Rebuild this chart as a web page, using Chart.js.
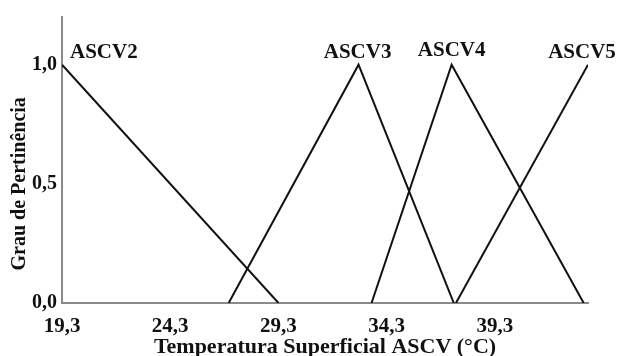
<!DOCTYPE html>
<html lang="pt">

<head>
    <meta charset="UTF-8">
    <title>Grau de Pertinência ASCV</title>
    <style>
        body {
            margin: 0;
            padding: 0;
            background-color: #ffffff;
        }

        .chart-box {
            width: 618px;
            height: 356px;
        }
    </style>
</head>

<body>
    <div class="chart-box">
        <canvas id="fuzzyChart" width="618" height="356"></canvas>
    </div>

    <script src="https://cdn.jsdelivr.net/npm/chart.js"></script>
    <script>
        // Conjuntos fuzzy
        const setNames = ['ASCV2', 'ASCV3', 'ASCV4', 'ASCV5'];
        const ascv2X = [19.3, 29.3];
        const ascv2Y = [1, 0];
        const ascv3X = [27.0, 33.0, 37.4];
        const ascv3Y = [0, 1, 0];
        const ascv4X = [33.6, 37.3, 43.4];
        const ascv4Y = [0, 1, 0];
        const ascv5X = [37.5, 43.6];
        const ascv5Y = [0, 1];

        const xTicks = [19.3, 24.3, 29.3, 34.3, 39.3];
        const yTicks = [0, 0.5, 1.0];

        const serif = "'Liberation Serif', 'Times New Roman', serif";

        function toPoints(xs, ys) {
            return xs.map((x, i) => ({ x: x, y: ys[i] }));
        }

        const seriesX = [ascv2X, ascv3X, ascv4X, ascv5X];
        const seriesY = [ascv2Y, ascv3Y, ascv4Y, ascv5Y];

        // Rótulos dos conjuntos + título do eixo Y
        const labelPlugin = {
            id: 'setLabels',
            afterDraw(chart) {
                const ctx = chart.ctx;
                const xs = chart.scales.x;
                const ys = chart.scales.y;
                ctx.save();
                ctx.fillStyle = '#111';
                ctx.font = 'bold 21px ' + serif;
                ctx.textBaseline = 'middle';
                // offsets so the text sits like in the original figure
                const dx = [8, -1, 0, -6];
                const dy = [-12, -12, -14, -12];
                setNames.forEach((name, i) => {
                    const px = seriesX[i];
                    const py = seriesY[i];
                    const k = py.indexOf(Math.max(...py));
                    const x = xs.getPixelForValue(px[k]) + dx[i];
                    const y = ys.getPixelForValue(py[k]) + dy[i];
                    ctx.textAlign = i === 0 ? 'left' : 'center';
                    ctx.fillText(name, x, y);
                });

                // y title, centred on the 0..1 range
                ctx.translate(20, (ys.getPixelForValue(0) + ys.getPixelForValue(1)) / 2);
                ctx.rotate(-Math.PI / 2);
                ctx.textAlign = 'center';
                ctx.font = 'bold 20px ' + serif;
                ctx.fillText('Grau de Pertinência', 0, 0);
                ctx.restore();
            }
        };

        const ctx = document.getElementById('fuzzyChart').getContext('2d');
        const fuzzyChart = new Chart(ctx, {
            type: 'line',
            data: {
                datasets: setNames.map((name, i) => ({
                    label: name,
                    data: toPoints(seriesX[i], seriesY[i]),
                    borderColor: '#111',
                    borderWidth: 2,
                    pointRadius: 0,
                    tension: 0,
                    fill: false
                }))
            },
            options: {
                responsive: false,
                animation: false,
                layout: {
                    padding: { top: 13, right: 30, left: 0, bottom: 0 }
                },
                scales: {
                    x: {
                        type: 'linear',
                        min: 19.3,
                        max: 43.6,
                        afterBuildTicks: (axis) => {
                            axis.ticks = xTicks.map(v => ({ value: v }));
                        },
                        afterFit: (axis) => {
                            axis.height = 53;
                        },
                        grid: {
                            display: false,
                            drawTicks: false
                        },
                        border: {
                            color: '#8a8a8a',
                            width: 2
                        },
                        ticks: {
                            padding: 11,
                            color: '#111',
                            autoSkip: false,
                            maxRotation: 0,
                            font: { family: serif, size: 21, weight: 'bold' },
                            callback: (v) => v.toFixed(1).replace('.', ',')
                        },
                        title: {
                            display: true,
                            text: 'Temperatura Superficial ASCV (°C)',
                            color: '#111',
                            padding: 0,
                            font: { family: serif, size: 22, weight: 'bold', lineHeight: 0.75 }
                        }
                    },
                    y: {
                        min: 0,
                        max: 1.2,
                        afterBuildTicks: (axis) => {
                            axis.ticks = yTicks.map(v => ({ value: v }));
                        },
                        afterFit: (axis) => {
                            axis.width = 62;
                        },
                        grid: {
                            display: false,
                            drawTicks: false
                        },
                        border: {
                            color: '#8a8a8a',
                            width: 2
                        },
                        ticks: {
                            padding: 5,
                            color: '#111',
                            font: { family: serif, size: 20, weight: 'bold' },
                            callback: (v) => v.toFixed(1).replace('.', ',')
                        }
                    }
                },
                plugins: {
                    legend: { display: false },
                    tooltip: { enabled: false }
                }
            },
            plugins: [labelPlugin]
        });
    </script>
</body>

</html>
